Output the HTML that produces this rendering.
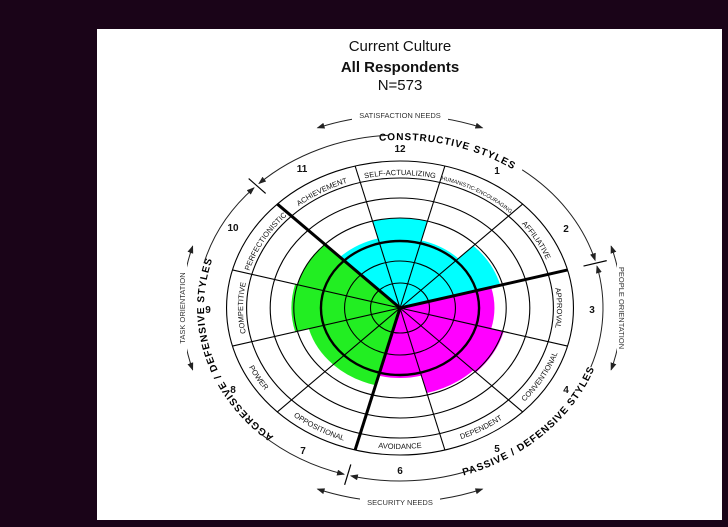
<!DOCTYPE html>
<html><head><meta charset="utf-8"><style>
html,body{margin:0;padding:0;background:#1a0418;}
#w{position:absolute;left:97px;top:29px;width:625px;height:491px;background:#fff;}
svg{position:absolute;left:0;top:0;}
text{font-family:"Liberation Sans",sans-serif;fill:#111;}
.n{font-family:"Liberation Sans Narrow","Liberation Sans",sans-serif;font-size:7.5px;fill:#333;}
.st{font-size:10px;font-weight:bold;letter-spacing:1px;fill:#000;}
.num{font-size:10px;font-weight:bold;text-anchor:middle;}
</style></head><body>
<div id="w"></div>
<svg width="728" height="527" viewBox="0 0 728 527">
<defs>
<marker id="ar" markerWidth="8" markerHeight="6" refX="7" refY="3" orient="auto-start-reverse" markerUnits="userSpaceOnUse"><path d="M0,0 L8,3 L0,6 Z" fill="#222"/></marker>
<path id="l12"/><path id="l1"/><path id="l2"/><path id="l3"/><path id="l4"/><path id="l5"/><path id="l6"/><path id="l7"/><path id="l8"/><path id="l9"/><path id="l10"/><path id="l11"/>
<path id="s1"/><path id="s2"/><path id="s3"/>
</defs>
<text x="400" y="51" font-size="15" text-anchor="middle">Current Culture</text>
<text x="400" y="72" font-size="15" font-weight="bold" text-anchor="middle">All Respondents</text>
<text x="400" y="90" font-size="15" text-anchor="middle">N=573</text>
<g id="g"></g>
<g class="n">
<text><textPath href="#l12" startOffset="50%" text-anchor="middle">SELF-ACTUALIZING</textPath></text>
<text style="font-size:5.5px"><textPath href="#l1" startOffset="50%" text-anchor="middle">HUMANISTIC-ENCOURAGING</textPath></text>
<text><textPath href="#l2" startOffset="50%" text-anchor="middle">AFFILIATIVE</textPath></text>
<text><textPath href="#l3" startOffset="50%" text-anchor="middle">APPROVAL</textPath></text>
<text><textPath href="#l4" startOffset="50%" text-anchor="middle">CONVENTIONAL</textPath></text>
<text><textPath href="#l5" startOffset="50%" text-anchor="middle">DEPENDENT</textPath></text>
<text><textPath href="#l6" startOffset="50%" text-anchor="middle">AVOIDANCE</textPath></text>
<text><textPath href="#l7" startOffset="50%" text-anchor="middle">OPPOSITIONAL</textPath></text>
<text><textPath href="#l8" startOffset="50%" text-anchor="middle">POWER</textPath></text>
<text><textPath href="#l9" startOffset="50%" text-anchor="middle">COMPETITIVE</textPath></text>
<text><textPath href="#l10" startOffset="50%" text-anchor="middle">PERFECTIONISTIC</textPath></text>
<text><textPath href="#l11" startOffset="50%" text-anchor="middle">ACHIEVEMENT</textPath></text>
</g>
<text class="st"><textPath href="#s1" startOffset="50%" text-anchor="middle">CONSTRUCTIVE STYLES</textPath></text>
<text class="st"><textPath href="#s2" startOffset="50%" text-anchor="middle">PASSIVE / DEFENSIVE STYLES</textPath></text>
<text class="st"><textPath href="#s3" startOffset="50%" text-anchor="middle">AGGRESSIVE / DEFENSIVE STYLES</textPath></text>
<g class="num">
<text x="400" y="152">12</text><text x="497" y="174">1</text><text x="566" y="232">2</text>
<text x="592" y="313">3</text><text x="566" y="393">4</text><text x="497" y="452">5</text>
<text x="400" y="474">6</text><text x="303" y="454">7</text><text x="233" y="393">8</text>
<text x="208" y="313">9</text><text x="233" y="231">10</text><text x="302" y="172">11</text>
</g>
<g id="o"></g>
<rect x="352" y="110" width="96" height="10" fill="#fff"/>
<text x="400" y="118" font-size="8" class="n" text-anchor="middle">SATISFACTION NEEDS</text>
<rect x="360" y="497" width="80" height="10" fill="#fff"/>
<text x="400" y="505" font-size="8" class="n" text-anchor="middle">SECURITY NEEDS</text>
<rect x="177" y="262" width="10" height="92" fill="#fff"/>
<text transform="translate(185,308) rotate(-90)" class="n" text-anchor="middle">TASK ORIENTATION</text>
<rect x="617" y="260" width="10" height="96" fill="#fff"/>
<text transform="translate(619,308) rotate(90)" class="n" text-anchor="middle">PEOPLE ORIENTATION</text>
<script>
(function(){
var cx=400,cy=308,k=1.18,NS="http://www.w3.org/2000/svg";
function E(th,rx,ry){var a=th*Math.PI/180;return [cx+rx*Math.sin(a),cy-ry*Math.cos(a)];}
function P(th,r){return E(th,k*r,r);}
function arc(t1,t2,rx,ry){var a=E(t1,rx,ry),b=E(t2,rx,ry),sw=t2>t1?1:0,lg=Math.abs(t2-t1)>180?1:0;
 return "M"+a[0].toFixed(2)+","+a[1].toFixed(2)+" A"+rx+","+ry+" 0 "+lg+" "+sw+" "+b[0].toFixed(2)+","+b[1].toFixed(2);}
function el(p,tag,at){var e=document.createElementNS(NS,tag);for(var x in at)e.setAttribute(x,at[x]);p.appendChild(e);return e;}
var g=document.getElementById("g"),o=document.getElementById("o");
var vals={0:90,1:70,2:88,3:80,4:91,5:88,6:70,7:80,8:80,9:92,10:90,11:72};
for(var s=0;s<12;s++){var th=s*30,r=vals[s],t1=th-15,t2=th+15;
 var col=(s>=11||s<=2)?"#00ffff":(s<=6?"#ff00ff":"#22ee22");
 var a=P(t1,r),b=P(t2,r);
 el(g,"path",{d:"M"+cx+","+cy+" L"+a[0]+","+a[1]+" A"+(k*r)+","+r+" 0 0 1 "+b[0]+","+b[1]+" Z",fill:col});}
[25,47,67,90,110,130,147].forEach(function(r){el(g,"ellipse",{cx:cx,cy:cy,rx:k*r,ry:r,fill:"none",stroke:"#000","stroke-width":r==67?2.4:1.1});});
for(var i=0;i<12;i++){var th=15+30*i,p=P(th,147),thick=(th==75||th==195||th==315);
 el(g,"line",{x1:cx,y1:cy,x2:p[0],y2:p[1],stroke:"#000","stroke-width":thick?3:1.1});}
for(var s=0;s<12;s++){var th=s*30,id=document.getElementById("l"+(s==0?12:s));
 if(s>=4&&s<=8) id.setAttribute("d",arc(th+16,th-16,k*141,141));
 else id.setAttribute("d",arc(th-16,th+16,k*133,133));}
document.getElementById("s1").setAttribute("d",arc(-25,55,200,168));
document.getElementById("s2").setAttribute("d",arc(175,95,207,176));
document.getElementById("s3").setAttribute("d",arc(210,298,196,168));
var RX=203,RY=173;
[[316,357,1,0],[37,74,0,1],[76,110,1,0],[159,194,0,1],[196,223,1,0],[285,314,0,1]].forEach(function(q){
 var at={d:arc(q[0],q[1],RX,RY),fill:"none",stroke:"#222","stroke-width":1};
 if(q[2])at["marker-start"]="url(#ar)"; if(q[3])at["marker-end"]="url(#ar)";
 el(o,"path",at);});
[315,75,195].forEach(function(th){var a=E(th,190,162),b=E(th,214,183);el(o,"line",{x1:a[0],y1:a[1],x2:b[0],y2:b[1],stroke:"#000","stroke-width":1.2});});
function oa(t1,t2,rx,ry){el(o,"path",{d:arc(t1,t2,rx,ry),fill:"none",stroke:"#222","stroke-width":1,"marker-start":"url(#ar)","marker-end":"url(#ar)"});}
oa(-21,21,230,193);oa(159,201,230,194);oa(252,288,218,200);oa(72,108,222,200);
})();
</script>
</svg>
</body></html>
